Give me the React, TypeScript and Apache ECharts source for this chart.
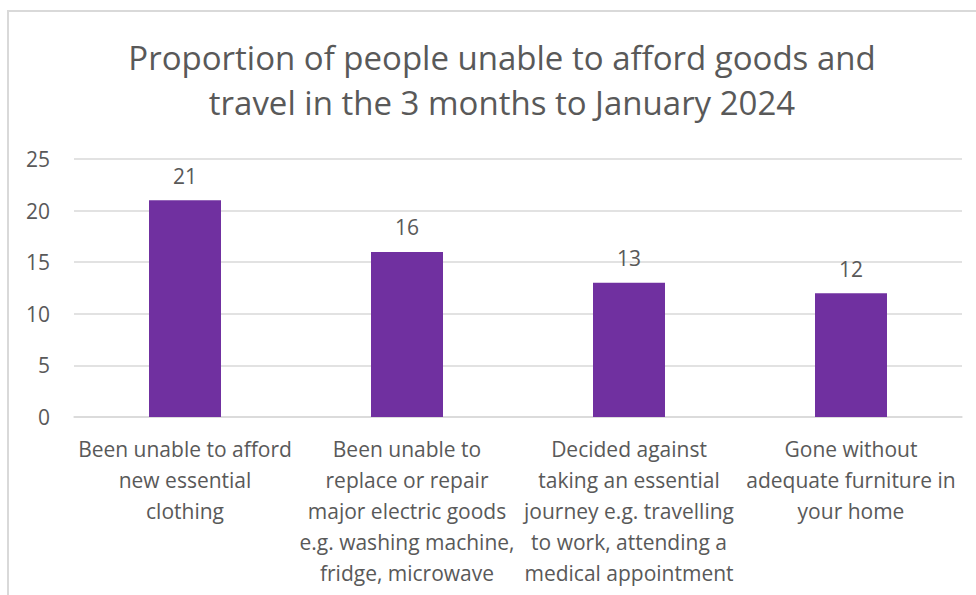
import React, { useEffect, useRef } from "react";
import * as echarts from "echarts";

const titleText = "Proportion of people unable to afford goods and\ntravel in the 3 months to January 2024";
const categories = [
  "Been unable to afford\nnew essential\nclothing",
  "Been unable to\nreplace or repair\nmajor electric goods\ne.g. washing machine,\nfridge, microwave",
  "Decided against\ntaking an essential\njourney e.g. travelling\nto work, attending a\nmedical appointment",
  "Gone without\nadequate furniture in\nyour home",
];
const values = [21, 16, 13, 12];
const yTicks = { min: 0, max: 25, interval: 5 };

const FONT = "'Open Sans', 'Noto Sans', sans-serif";
const GREY = "#595959";

export default function App() {
  const ref = useRef<HTMLDivElement>(null);
  useEffect(() => {
    if (!ref.current) return;
    const chart = echarts.init(ref.current, undefined, { renderer: "svg" });
    chart.setOption({
      animation: false,
      backgroundColor: "#ffffff",
      graphic: [
        {
          type: "rect",
          shape: { x: 8, y: 11, width: 1100, height: 800 },
          style: { fill: "none", stroke: "#d9d9d9", lineWidth: 2 },
          silent: true,
          z: -1,
        },
      ],
      title: {
        text: titleText,
        left: 497,
        textAlign: "center",
        top: 30,
        textStyle: {
          fontFamily: FONT,
          fontSize: 33,
          fontWeight: "normal",
          color: GREY,
          lineHeight: 45,
        },
      },
      grid: { left: 74, right: 14, top: 159, bottom: 178, containLabel: false },
      xAxis: {
        type: "category",
        data: categories,
        axisLine: { show: true, lineStyle: { color: "#d9d9d9", width: 1.5 } },
        axisTick: { show: false },
        axisLabel: {
          interval: 0,
          margin: 16,
          fontFamily: FONT,
          fontSize: 21,
          color: GREY,
          lineHeight: 31,
          align: "center",
        },
      },
      yAxis: {
        type: "value",
        min: yTicks.min,
        max: yTicks.max,
        interval: yTicks.interval,
        axisLine: { show: false },
        axisTick: { show: false },
        splitLine: { lineStyle: { color: "#d9d9d9", width: 1.5 } },
        axisLabel: {
          margin: 24,
          fontFamily: FONT,
          fontSize: 21,
          color: GREY,
        },
      },
      series: [
        {
          type: "bar",
          data: values,
          barWidth: 72,
          itemStyle: { color: "#7030A0" },
          label: {
            show: true,
            position: "top",
            distance: 14,
            fontFamily: FONT,
            fontSize: 21,
            color: GREY,
          },
        },
      ],
    });
    return () => chart.dispose();
  }, []);
  return (
    <div
      ref={ref}
      style={{ position: "fixed", left: 0, top: 0, width: 976, height: 595 }}
    />
  );
}
